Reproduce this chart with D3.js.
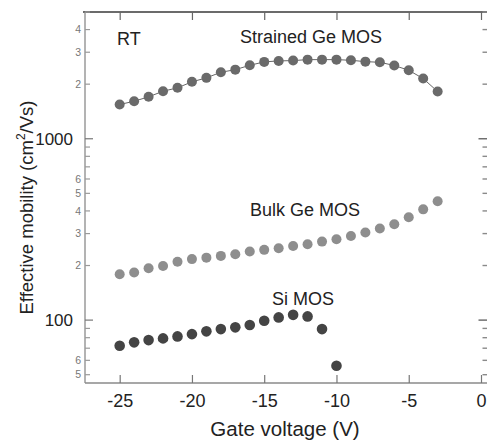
<!DOCTYPE html>
<html>
<head>
<meta charset="utf-8">
<script src="https://cdn.jsdelivr.net/npm/d3@7"></script>
<style>
  html, body { margin: 0; padding: 0; background: #fff; }
  svg { display: block; font-family: "Liberation Sans", Arial, sans-serif; }
</style>
</head>
<body>
<svg id="chart" width="487" height="441"></svg>
<script>
// Gate voltage (V) for each device
const strainedV = [-25,-24,-23,-22,-21,-20,-19,-18,-17,-16,-15,-14,-13,-12,-11,-10,-9,-8,-7,-6,-5,-4,-3];
const strainedMu = [1545,1610,1703,1828,1909,2060,2167,2326,2405,2541,2654,2687,2698,2731,2731,2731,2709,2662,2641,2535,2386,2147,1821];

const bulkV = [-25,-24,-23,-22,-21,-20,-19,-18,-17,-16,-15,-14,-13,-12,-11,-10,-9,-8,-7,-6,-5,-4,-3];
const bulkMu = [179,183,193,199,210,217,221,226,231,239,244,249,256,262,271,279,291,304,320,338,369,408,452];

const siV = [-25,-24,-23,-22,-21,-20,-19,-18,-17,-16,-15,-14,-13,-12,-11,-10];
const siMu = [72.2,75.4,77.6,79.3,81.3,83.7,86.7,89.2,91.2,93.9,99.1,103.5,106.9,104.8,89.2,56.0];

const xTicks = [-25,-20,-15,-10,-5,0];
const yMajorTicks = [100,1000];
const yMinorLabels = [50,60,200,300,400,500,600,2000,3000,4000];

const svg = d3.select("#chart");
const plotL = 85, plotR = 481, plotT = 12, plotB = 383, frameR = 487.5;

const x = d3.scaleLinear().domain([-27.4, 0]).range([plotL, plotR]);
const y = d3.scaleLog().domain([45, 5000]).range([plotB, plotT]);

const axisColor = "#8a8a8a";

// frame lines: top, left, bottom
svg.append("line").attr("x1", plotL - 2).attr("x2", 487).attr("y1", plotT).attr("y2", plotT)
  .attr("stroke", "#3a3a3a").attr("stroke-width", 1.3);
svg.append("line").attr("x1", plotL).attr("x2", plotL).attr("y1", plotT).attr("y2", plotB)
  .attr("stroke", axisColor).attr("stroke-width", 1.3);
svg.append("line").attr("x1", plotL).attr("x2", 487).attr("y1", plotB).attr("y2", plotB)
  .attr("stroke", axisColor).attr("stroke-width", 1.3);

// x ticks (bottom and top, pointing inward)
const xAxisBottom = d3.axisBottom(x).tickValues(xTicks).tickSizeInner(-8).tickSizeOuter(0)
  .tickPadding(11).tickFormat(d => d === 0 ? "0" : String(d));
const gxb = svg.append("g").attr("transform", `translate(0,${plotB})`).call(xAxisBottom);
gxb.select(".domain").remove();
gxb.selectAll(".tick line").attr("stroke", "#777").attr("stroke-width", 1.2);
gxb.selectAll(".tick text").attr("font-size", 18).attr("fill", "#222")
  .attr("font-family", "Liberation Sans, Arial, sans-serif");

const xAxisTop = d3.axisTop(x).tickValues(xTicks).tickSizeInner(-8).tickSizeOuter(0).tickFormat("");
const gxt = svg.append("g").attr("transform", `translate(0,${plotT})`).call(xAxisTop);
gxt.select(".domain").remove();
gxt.selectAll(".tick line").attr("stroke", "#666").attr("stroke-width", 1.2);

// y ticks: every 1..9 per decade, major longer
const yAll = [];
[10, 100, 1000].forEach(dec => { for (let k = 1; k <= 9; k++) { const v = dec * k; if (v >= 45 && v <= 5000) yAll.push(v); } });

const isMajor = v => yMajorTicks.includes(v);
const gy = svg.append("g");
gy.selectAll("line.l").data(yAll).join("line").attr("class", "l")
  .attr("x1", plotL).attr("x2", d => plotL + (isMajor(d) ? 8 : 5))
  .attr("y1", d => y(d)).attr("y2", d => y(d))
  .attr("stroke", d => isMajor(d) ? "#777" : "#9a9a9a").attr("stroke-width", 1.2);
gy.selectAll("line.r").data(yAll).join("line").attr("class", "r")
  .attr("x1", frameR).attr("x2", d => frameR - (isMajor(d) ? 9 : 5))
  .attr("y1", d => y(d)).attr("y2", d => y(d))
  .attr("stroke", d => isMajor(d) ? "#666" : "#8a8a8a").attr("stroke-width", 1.4);

// y labels
gy.selectAll("text.maj").data(yMajorTicks).join("text").attr("class", "maj")
  .attr("x", plotL - 12).attr("y", d => y(d)).attr("dy", "0.36em")
  .attr("text-anchor", "end").attr("font-size", 17).attr("fill", "#222")
  .text(d => d);
gy.selectAll("text.min").data(yMinorLabels).join("text").attr("class", "min")
  .attr("x", plotL - 4).attr("y", d => y(d)).attr("dy", "0.36em")
  .attr("text-anchor", "end").attr("font-size", 10.5).attr("fill", "#777")
  .text(d => String(d).charAt(0));

// axis titles
svg.append("text").attr("x", 285).attr("y", 436).attr("text-anchor", "middle")
  .attr("font-size", 20.5).attr("fill", "#222").text("Gate voltage (V)");

const yt = svg.append("text")
  .attr("transform", `translate(33,${(plotT + plotB) / 2 + 10}) rotate(-90)`)
  .attr("text-anchor", "middle").attr("font-size", 18.5).attr("fill", "#222");
yt.append("tspan").text("Effective mobility (cm");
yt.append("tspan").attr("dy", -8).attr("font-size", 12).text("2");
yt.append("tspan").attr("dy", 8).text("/Vs)");

// Strained Ge: connected markers
svg.append("path")
  .datum(strainedV.map((v, i) => [v, strainedMu[i]]))
  .attr("fill", "none").attr("stroke", "#666").attr("stroke-width", 1)
  .attr("d", d3.line().x(d => x(d[0])).y(d => y(d[1])));
svg.append("g").selectAll("circle").data(strainedV.map((v, i) => [v, strainedMu[i]])).join("circle")
  .attr("cx", d => x(d[0])).attr("cy", d => y(d[1])).attr("r", 5).attr("fill", "#6a6a6a");

// Bulk Ge markers
svg.append("g").selectAll("circle").data(bulkV.map((v, i) => [v, bulkMu[i]])).join("circle")
  .attr("cx", d => x(d[0])).attr("cy", d => y(d[1])).attr("r", 5).attr("fill", "#8e8e8e");

// Si markers
svg.append("g").selectAll("circle").data(siV.map((v, i) => [v, siMu[i]])).join("circle")
  .attr("cx", d => x(d[0])).attr("cy", d => y(d[1])).attr("r", 5.3).attr("fill", "#444");

// annotations
const ann = [
  { t: "RT", x: 117, y: 45 },
  { t: "Strained Ge MOS", x: 240, y: 43 },
  { t: "Bulk Ge MOS", x: 250, y: 216 },
  { t: "Si MOS", x: 272, y: 305 }
];
svg.append("g").selectAll("text").data(ann).join("text")
  .attr("x", d => d.x).attr("y", d => d.y).attr("font-size", 18).attr("fill", "#222")
  .text(d => d.t);
</script>
</body>
</html>
